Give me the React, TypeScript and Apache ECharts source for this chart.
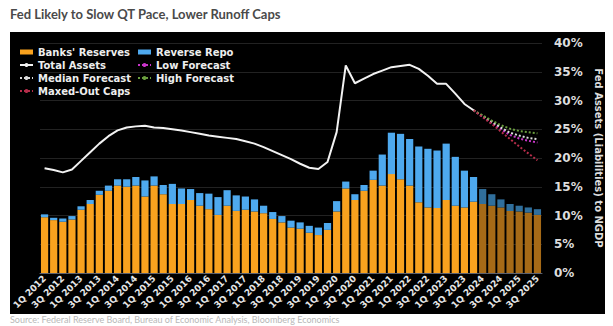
import React, { useEffect, useRef } from 'react';
import * as echarts from 'echarts';

const categories = [
  '1Q 2012', '2Q 2012', '3Q 2012', '4Q 2012',
  '1Q 2013', '2Q 2013', '3Q 2013', '4Q 2013',
  '1Q 2014', '2Q 2014', '3Q 2014', '4Q 2014',
  '1Q 2015', '2Q 2015', '3Q 2015', '4Q 2015',
  '1Q 2016', '2Q 2016', '3Q 2016', '4Q 2016',
  '1Q 2017', '2Q 2017', '3Q 2017', '4Q 2017',
  '1Q 2018', '2Q 2018', '3Q 2018', '4Q 2018',
  '1Q 2019', '2Q 2019', '3Q 2019', '4Q 2019',
  '1Q 2020', '2Q 2020', '3Q 2020', '4Q 2020',
  '1Q 2021', '2Q 2021', '3Q 2021', '4Q 2021',
  '1Q 2022', '2Q 2022', '3Q 2022', '4Q 2022',
  '1Q 2023', '2Q 2023', '3Q 2023', '4Q 2023',
  '1Q 2024', '2Q 2024', '3Q 2024', '4Q 2024',
  '1Q 2025', '2Q 2025', '3Q 2025',
];

// % of NGDP
const banksReserves = [
  9.7, 9.2, 8.9, 9.3, 11.0, 12.0, 13.6, 14.3, 15.2, 15.0, 15.2, 13.3,
  15.2, 13.7, 12.0, 12.0, 12.7, 11.7, 11.1, 10.1, 11.7, 10.8, 11.0, 10.7,
  10.4, 9.4, 8.8, 7.9, 7.7, 7.0, 6.6, 7.5, 10.7, 14.7, 12.7, 14.3,
  16.2, 15.2, 17.2, 16.3, 15.2, 12.3, 11.4, 11.3, 12.7, 11.7, 11.4, 12.4,
  12.0, 11.7, 11.4, 10.8, 10.7, 10.5, 10.1,
];
const reverseRepo = [
  0.5, 0.4, 0.6, 0.6, 0.6, 0.7, 0.7, 0.9, 1.1, 1.3, 1.5, 2.8,
  1.6, 1.6, 3.5, 2.7, 1.9, 2.2, 2.7, 3.1, 2.7, 2.7, 2.3, 2.1,
  1.3, 1.2, 1.1, 1.2, 1.1, 1.2, 1.3, 1.2, 1.8, 1.2, 1.0, 1.0,
  1.6, 5.4, 7.2, 7.9, 8.1, 9.7, 10.2, 10.0, 9.8, 8.5, 6.4, 4.3,
  2.6, 2.0, 1.4, 1.2, 1.0, 0.9, 1.0,
];
const totalAssets = [
  18.2, 17.9, 17.5, 18.0, 19.5, 21.0, 22.5, 23.8, 24.8, 25.3, 25.5, 25.6,
  25.3, 25.2, 25.0, 24.8, 24.5, 24.2, 23.9, 23.7, 23.5, 23.3, 22.9, 22.5,
  21.9, 21.2, 20.5, 19.8, 19.0, 18.3, 18.1, 19.3, 24.5, 36.1, 33.0, 33.8,
  34.6, 35.2, 35.8, 36.0, 36.2, 35.5, 34.3, 32.9, 32.9, 31.2, 29.4, 28.3,
];
// forecasts start at 4Q 2023
const forecastStart = 47;
const lowForecast = [28.3, 27.2, 26.1, 25.0, 24.0, 23.4, 23.0, 22.7];
const medianForecast = [28.3, 27.3, 26.3, 25.3, 24.4, 23.9, 23.5, 23.3];
const highForecast = [28.3, 27.4, 26.5, 25.7, 25.1, 24.7, 24.5, 24.3];
const maxedOutCaps = [28.3, 27.1, 25.9, 24.6, 23.3, 22.0, 20.8, 19.6];
// projected bars from 1Q 2024
const projectedFrom = 48;

const yTicks = { min: 0, max: 40, interval: 5 };

const ORANGE = '#F9A21E';
const ORANGE_P = '#A66A17';
const BLUE = '#4EA9EE';
const BLUE_P = '#306F9C';

export default function App() {
  const ref = useRef<HTMLDivElement>(null);
  useEffect(() => {
    document.body.style.margin = '0';
    const chart = echarts.init(ref.current!, null, { renderer: 'svg' });
    const pad = (arr: number[], start: number) =>
      categories.map((_, i) => (i >= start && i - start < arr.length ? arr[i - start] : null));
    const barData = (arr: number[], c: string, cp: string) =>
      arr.map((v, i) => ({ value: v, itemStyle: { color: i >= projectedFrom ? cp : c } }));
    const font = 'DejaVu Sans';
    const lineSeries = (name: string, arr: number[], color: string) => ({
      name,
      type: 'line',
      data: pad(arr, forecastStart),
      symbol: 'none',
      lineStyle: { color, width: 2, type: 'dotted' },
      itemStyle: { color },
      z: 5,
    });
    chart.setOption({
      animation: false,
      backgroundColor: '#ffffff',
      graphic: [
        { type: 'rect', z: -10, shape: { x: 10, y: 32, width: 595, height: 282 }, style: { fill: '#000000' } },
        {
          type: 'text', left: 10, top: 7,
          style: { text: 'Fed Likely to Slow QT Pace, Lower Runoff Caps', fill: '#4a4a4a', font: 'bold 13px Lato' },
        },
        {
          type: 'text', left: 10, top: 315,
          style: { text: 'Source: Federal Reserve Board, Bureau of Economic Analysis, Bloomberg Economics', fill: '#b8b8b8', font: '9px Lato' },
        },
      ],
      legend: [
        {
          left: 14, top: 41, orient: 'vertical', itemGap: 1, itemWidth: 13, itemHeight: 5,
          data: [
            { name: "Banks' Reserves", icon: 'rect' },
            { name: 'Total Assets' },
            { name: 'Median Forecast' },
            { name: 'Maxed-Out Caps' },
          ],
          textStyle: { color: '#eeeeee', fontWeight: 'bold', fontSize: 10, fontFamily: font, lineHeight: 12 },
        },
        {
          left: 132, top: 41, orient: 'vertical', itemGap: 1, itemWidth: 13, itemHeight: 5,
          data: [
            { name: 'Reverse Repo', icon: 'rect' },
            { name: 'Low Forecast' },
            { name: 'High Forecast' },
          ],
          textStyle: { color: '#eeeeee', fontWeight: 'bold', fontSize: 10, fontFamily: font, lineHeight: 12 },
        },
      ],
      grid: { left: 40, right: 71, top: 43, bottom: 53 },
      xAxis: {
        type: 'category',
        data: categories,
        axisLine: { lineStyle: { color: '#5a6070' } },
        axisTick: { alignWithLabel: true, interval: 1, length: 3, lineStyle: { color: '#5a6070' } },
        axisLabel: {
          interval: 1, rotate: 45, color: '#e6e6e6', fontWeight: 'bold', fontSize: 9,
          fontFamily: font, margin: 4,
        },
      },
      yAxis: {
        type: 'value',
        position: 'right',
        min: yTicks.min, max: yTicks.max, interval: yTicks.interval,
        axisLabel: { formatter: '{value}%', color: '#dddddd', fontWeight: 'bold', fontSize: 12, fontFamily: font, margin: 12 },
        splitLine: { lineStyle: { color: '#222222', width: 1 } },
        axisLine: { show: false },
        axisTick: { show: false },
        name: 'Fed Assets (Liabilities) to NGDP',
        nameLocation: 'middle',
        nameRotate: -90,
        nameGap: 48,
        nameTextStyle: { color: '#dddddd', fontWeight: 'bold', fontSize: 10, fontFamily: font },
      },
      series: [
        {
          name: "Banks' Reserves", type: 'bar', stack: 'liab', barCategoryGap: '21%',
          data: barData(banksReserves, ORANGE, ORANGE_P), itemStyle: { color: ORANGE },
        },
        {
          name: 'Reverse Repo', type: 'bar', stack: 'liab', barCategoryGap: '21%',
          data: barData(reverseRepo, BLUE, BLUE_P), itemStyle: { color: BLUE },
        },
        {
          name: 'Total Assets', type: 'line', data: totalAssets, symbol: 'none',
          lineStyle: { color: '#f2f2f2', width: 2 }, itemStyle: { color: '#f2f2f2' }, z: 6,
        },
        lineSeries('Low Forecast', lowForecast, '#c935c9'),
        lineSeries('Median Forecast', medianForecast, '#dcdcdc'),
        lineSeries('High Forecast', highForecast, '#6a9e3e'),
        lineSeries('Maxed-Out Caps', maxedOutCaps, '#b52d4a'),
      ],
    });
    return () => chart.dispose();
  }, []);
  return <div ref={ref} style={{ width: 613, height: 326 }} />;
}
